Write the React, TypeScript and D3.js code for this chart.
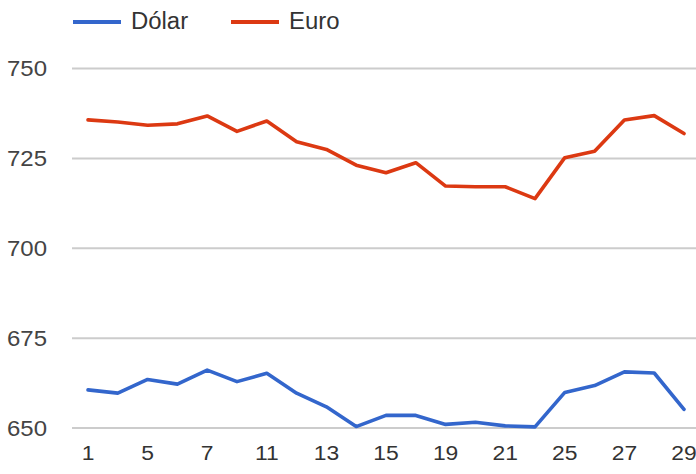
import React from "react";
import * as d3 from "d3";

const days = ["1", "4", "5", "6", "7", "8", "11", "12", "13", "14", "15", "18", "19", "20", "21", "22", "25", "26", "27", "28", "29"];
const dolar = [660.6, 659.7, 663.5, 662.2, 666.1, 662.9, 665.2, 659.7, 655.9, 650.4, 653.5, 653.5, 651.0, 651.6, 650.6, 650.3, 659.9, 661.8, 665.6, 665.3, 655.2];
const euro = [735.7, 735.1, 734.2, 734.6, 736.8, 732.5, 735.4, 729.6, 727.5, 723.1, 721.0, 723.8, 717.3, 717.1, 717.1, 713.8, 725.2, 727.0, 735.7, 736.9, 731.9];
const yTicks = [650, 675, 700, 725, 750];
const seriesNames = ["Dólar", "Euro"];
const colors = ["#3366cc", "#dc3912"];

const W = 696;
const H = 474;
const FONT = "Arial, 'Liberation Sans', sans-serif";

export default function App() {
  const x = d3.scalePoint<string>().domain(days).range([88, 684]);
  const y = d3.scaleLinear().domain([650, 750]).range([428, 68.5]);
  const line = d3
    .line<number>()
    .x((_, i) => x(days[i]) as number)
    .y((d) => y(d));
  const series = [dolar, euro];
  const legendX = [73, 231];

  return (
    <svg width={W} height={H} style={{ position: "absolute", left: 0, top: 0, background: "#fff" }}>
      <rect x={0} y={0} width={W} height={H} fill="#fff" />
      {yTicks.map((t) => (
        <g key={t}>
          <line x1={72} x2={W} y1={y(t)} y2={y(t)} stroke="#cccccc" strokeWidth={2} />
          <text
            transform={`translate(47,${y(t)}) scale(1.09,1)`}
            dy="0.36em"
            textAnchor="end"
            fontFamily={FONT}
            fontSize={22}
            fill="#444"
          >
            {t}
          </text>
        </g>
      ))}
      {days.map((d, i) =>
        i % 2 === 0 ? (
          <text
            key={d}
            transform={`translate(${x(d)},460) scale(1.09,1)`}
            textAnchor="middle"
            fontFamily={FONT}
            fontSize={21}
            fill="#333"
          >
            {d}
          </text>
        ) : null
      )}
      {series.map((s, k) => (
        <path key={k} d={line(s) || ""} fill="none" stroke={colors[k]} strokeWidth={3.6} strokeLinejoin="round" strokeLinecap="round" />
      ))}
      {seriesNames.map((n, k) => (
        <g key={n}>
          <line x1={legendX[k]} x2={legendX[k] + 48} y1={22} y2={22} stroke={colors[k]} strokeWidth={4} />
          <text
            transform={`translate(${legendX[k] + 58},21) scale(1.04,1)`}
            dy="0.36em"
            fontFamily={FONT}
            fontSize={23}
            fill="#333"
          >
            {n}
          </text>
        </g>
      ))}
    </svg>
  );
}
